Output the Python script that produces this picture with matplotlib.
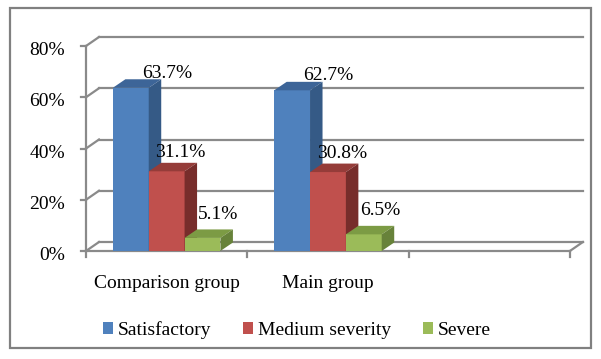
import matplotlib.pyplot as plt
from matplotlib.patches import Polygon, Rectangle, Patch

plt.rcParams['font.family'] = ['Liberation Serif', 'DejaVu Serif']

# data
categories = ['Comparison group', 'Main group', '']
series = ['Satisfactory', 'Medium severity', 'Severe']
satisfactory = [63.7, 62.7, None]
medium = [31.1, 30.8, None]
severe = [5.1, 6.5, None]
yticks = [0, 20, 40, 60, 80]

front_colors = ['#4F81BD', '#C0504D', '#9BBB59']
top_colors = ['#3D6598', '#953C39', '#7C9B44']
side_colors = ['#355A86', '#772D2B', '#67823A']
grid_color = '#8A8A8A'

# pixel scale of the plot area
CW = 161.3   # px per category
PY = 2.5625  # px per percent
DX, DY = 13 / CW, 9 / PY          # wall depth
BDX, BDY = 12.5 / CW, 8.5 / PY    # bar depth
bar_w = 1 / 4.5

fig = plt.figure(figsize=(6.01, 3.59), dpi=100)
ax = fig.add_axes([0, 0, 1, 1])
ax.set_xlim(-86 / CW, (601 - 86) / CW)
ax.set_ylim(-108 / PY, (359 - 108) / PY)
ax.axis('off')

"""walls and gridlines"""
lw = 1.6
for v in yticks:
    ax.plot([DX, len(categories) + DX], [v + DY, v + DY], color=grid_color, lw=lw, zorder=1)
    ax.plot([0, DX], [v, v + DY], color=grid_color, lw=lw, zorder=1)
    ax.plot([-5 / CW, 0], [v, v], color=grid_color, lw=lw, zorder=1)
    ax.text(-21 / CW, v - 1, f'{v}%', ha='right', va='center_baseline', fontsize=14)
ax.plot([0, 0], [0, yticks[-1]], color=grid_color, lw=lw, zorder=1)
ax.plot([0, len(categories)], [0, 0], color=grid_color, lw=lw, zorder=1)
ax.plot([len(categories), len(categories) + DX], [0, DY], color=grid_color, lw=lw, zorder=1)
for i in range(len(categories) + 1):
    ax.plot([i, i], [0, -6 / PY], color=grid_color, lw=lw, zorder=1)
for i, c in enumerate(categories):
    ax.text(i + 0.5, -12.5, c, ha='center', va='center', fontsize=14)

"""bars"""
label_off = [(36 / CW, 6.5), (14 / CW, 8), (16 / CW, 10)]
for j, vals in enumerate([satisfactory, medium, severe]):
    for i, v in enumerate(vals):
        if v is None:
            continue
        x0 = i + 0.75 * bar_w + j * bar_w
        x1 = x0 + bar_w
        z = 2 + j
        ax.add_patch(Rectangle((x0, 0), bar_w, v, facecolor=front_colors[j], edgecolor='none', zorder=z))
        ax.add_patch(Polygon([(x0, v), (x1, v), (x1 + BDX, v + BDY), (x0 + BDX, v + BDY)],
                             facecolor=top_colors[j], edgecolor='none', zorder=z))
        ax.add_patch(Polygon([(x1, 0), (x1 + BDX, BDY), (x1 + BDX, v + BDY), (x1, v)],
                             facecolor=side_colors[j], edgecolor='none', zorder=z))
        ox, oy = label_off[j]
        ax.text(x0 + bar_w / 2 + ox, v + oy, f'{v}%', ha='center', va='center_baseline',
                fontsize=14, zorder=10)

"""legend"""
handles = [Patch(facecolor=c, edgecolor='none') for c in front_colors]
fig.legend(handles, series, loc='center', bbox_to_anchor=(297 / 601, 1 - 330 / 359), ncol=3,
           frameon=False, prop={'family': 'Liberation Serif', 'size': 14},
           handlelength=0.5, handleheight=0.5, handletextpad=0.25, columnspacing=1.65)

"""outer frame"""
fig.add_artist(Rectangle((10 / 601, 1 - 348 / 359), 581 / 601, 340 / 359, transform=fig.transFigure,
                         fill=False, edgecolor='#808080', lw=1.6))

fig.savefig('out.png', dpi=100)
